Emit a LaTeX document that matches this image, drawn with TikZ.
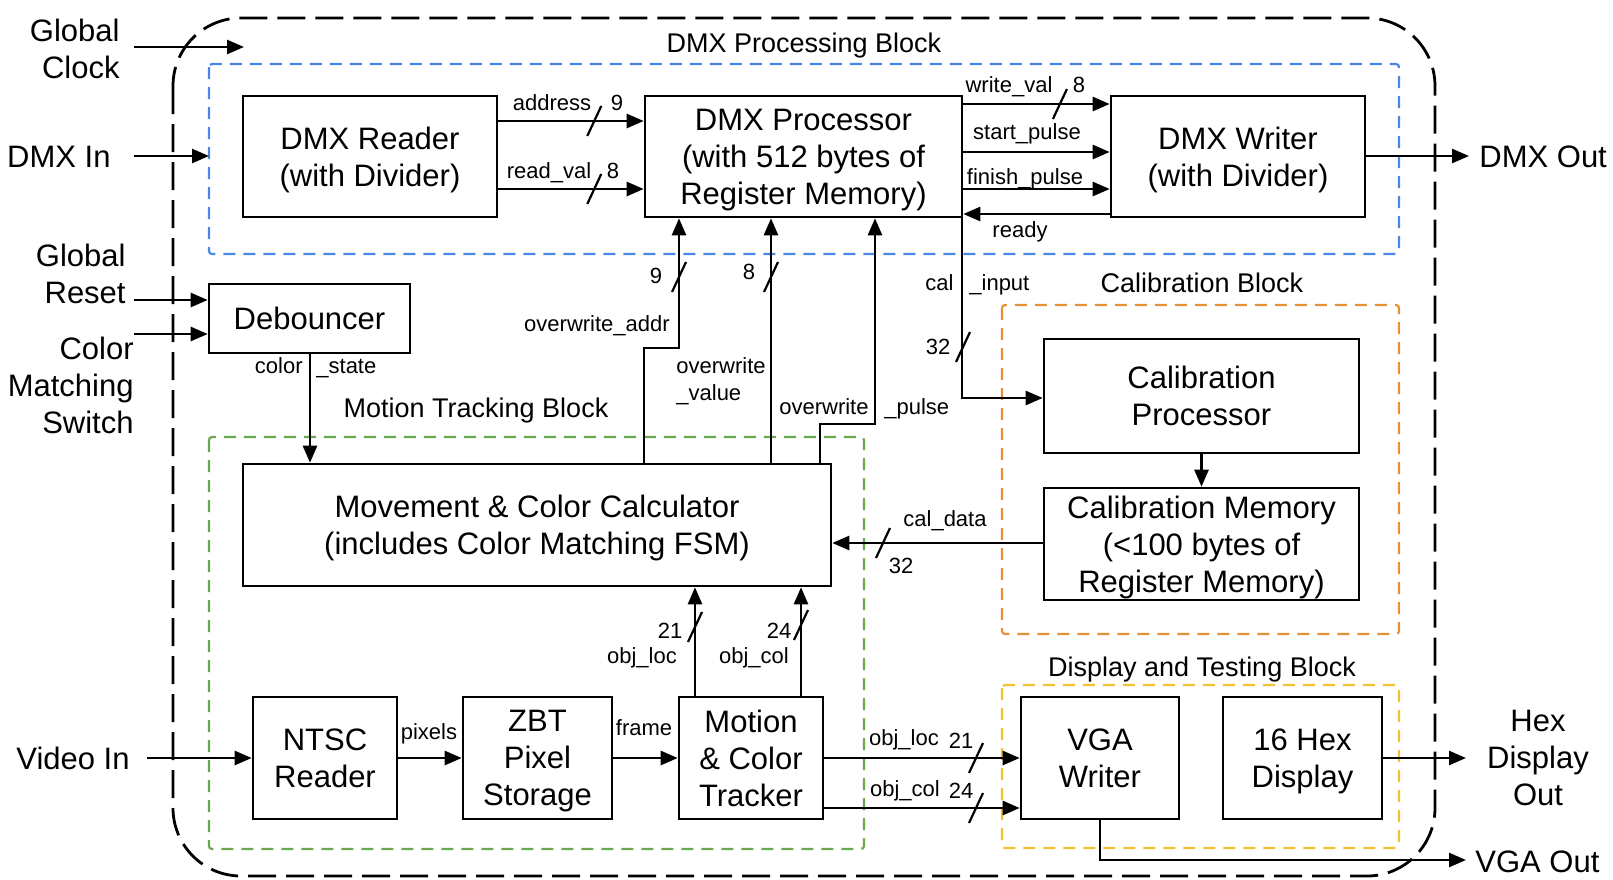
\documentclass[tikz,border=0pt]{standalone}
\usepackage{fontspec}
\setmainfont{Liberation Sans}
\usetikzlibrary{arrows.meta,calc}
\definecolor{grpblue}{RGB}{74,134,232}
\definecolor{grpgreen}{RGB}{106,168,79}
\definecolor{grporange}{RGB}{230,145,56}
\definecolor{grpyellow}{RGB}{241,194,50}
\newcommand\mainsz{\fontsize{15.5}{18.5}\selectfont}
\newcommand\ttlsz{\fontsize{13.5}{16}\selectfont}
\newcommand\lblsz{\fontsize{11}{13}\selectfont}
\newcommand\busslash[1]{\draw[slashln] ([shift={(-7,15)}]#1) -- ([shift={(7,-15)}]#1);}
\tikzset{
  blk/.style={draw, line width=1.3pt, align=center, font=\mainsz, inner sep=0pt, text depth=0pt},
  arr/.style={line width=1.3pt, -{Triangle[length=8.5pt,width=7pt]}},
  ln/.style={line width=1.3pt},
  lbl/.style={font=\lblsz, inner sep=0.5pt, text height=8pt, text depth=0pt},
  ttl/.style={font=\ttlsz, inner sep=0pt, text depth=0pt},
  ext/.style={font=\mainsz, inner sep=0pt},
  grp/.style={dash pattern=on 6pt off 4pt, line width=1.1pt, rounded corners=1.5pt},
  outer/.style={dash pattern=on 14pt off 5pt, line width=1.4pt, rounded corners=34pt},
  slashln/.style={line width=1.1pt},
}
\begin{document}
\begin{tikzpicture}[x=0.5pt,y=-0.5pt]
\useasboundingbox (0,0) rectangle (1613,879);

% outer and group frames
\draw[outer] (173,18) rectangle (1435,876);
\draw[grp, grpblue] (209,64) rectangle (1399,254);
\draw[grp, grpgreen] (209,437) rectangle (864,849);
\draw[grp, grporange] (1002,305) rectangle (1399,634);
\draw[grp, grpyellow] (1002,685) rectangle (1399,848);

\node[ttl] (tdmx) at (804,43) {DMX Processing Block};
\node[ttl] (tmot) at (476,408) {Motion Tracking Block};
\node[ttl] (tcal) at (1202,283) {Calibration Block};
\node[ttl] (tdisp) at (1202,667) {Display and Testing Block};

% blocks
\node[blk, minimum width=127pt, minimum height=60.5pt] (reader) at (370,156.5) {DMX Reader\\(with Divider)};
\node[blk, minimum width=158.5pt, minimum height=60.5pt] (proc) at (803.5,156.5) {DMX Processor\\(with 512 bytes of\\Register Memory)};
\node[blk, minimum width=127pt, minimum height=60.5pt] (writer) at (1238,156.5) {DMX Writer\\(with Divider)};
\node[blk, minimum width=100.5pt, minimum height=34.5pt] (deb) at (309.5,318.5) {Debouncer};
\node[blk, minimum width=294pt, minimum height=61pt] (calc) at (537,525) {Movement \& Color Calculator\\(includes Color Matching FSM)};
\node[blk, minimum width=157.5pt, minimum height=57pt] (calproc) at (1201.5,396) {Calibration\\Processor};
\node[blk, minimum width=157.5pt, minimum height=56pt] (calmem) at (1201.5,544) {Calibration Memory\\(<100 bytes of\\Register Memory)};
\node[blk, minimum width=72pt, minimum height=61pt] (ntsc) at (325,758) {NTSC\\Reader};
\node[blk, minimum width=74.5pt, minimum height=61pt] (zbt) at (537.5,758) {ZBT\\Pixel\\Storage};
\node[blk, minimum width=72pt, minimum height=61pt] (trk) at (751,758) {Motion\\\& Color\\Tracker};
\node[blk, minimum width=79pt, minimum height=61pt] (vga) at (1100,758) {VGA\\Writer};
\node[blk, minimum width=79.5pt, minimum height=61pt] (hex) at (1302.5,758) {16 Hex\\Display};

% external labels
\node[ext, anchor=east, align=right] (gclk) at (120,48.5) {Global\\Clock};
\node[ext, anchor=east] (dmxin) at (111,157) {DMX In};
\node[ext, anchor=east, align=right] (grst) at (126,273.5) {Global\\Reset};
\node[ext, anchor=east, align=right] (cms) at (134,385) {Color\\Matching\\Switch};
\node[ext, anchor=east] (vidin) at (130,758) {Video In};
\node[ext, anchor=west] (dmxout) at (1479,157) {DMX Out};
\node[ext, align=center] (hexout) at (1538,758) {Hex\\Display\\Out};
\node[ext, anchor=west] (vgaout) at (1475,862) {VGA Out};

% helper coordinates
\coordinate (gclkS) at (134,47);
\coordinate (gclkE) at (244,47);
\coordinate (dmxinS) at (134,156);
\coordinate (dmxinE) at (209,156);
\coordinate (rstS) at (134,300);
\coordinate (cmsS) at (134,334);
\coordinate (yAddr) at (0,121);
\coordinate (yRead) at (0,189);
\coordinate (yWval) at (0,104);
\coordinate (yStart) at (0,152);
\coordinate (yFin) at (0,189);
\coordinate (yReady) at (0,214);
\coordinate (yOut) at (0,156);
\coordinate (dmxoutE) at (1469,156);
\coordinate (oa1) at (644,348);
\coordinate (oa2) at (679,348);
\coordinate (ov) at (771,0);
\coordinate (op1) at (820,424);
\coordinate (op2) at (875,424);
\coordinate (ci) at (962,398);
\coordinate (cd) at (0,543);
\coordinate (cs) at (310,0);
\coordinate (ol) at (695,0);
\coordinate (oc) at (801,0);
\coordinate (vidS) at (147,758);
\coordinate (yLoc) at (0,758);
\coordinate (yCol) at (0,808);
\coordinate (hexE) at (1466,758);
\coordinate (vgaC) at (1100,860);
\coordinate (vgaE) at (1466,860);

% inputs
\draw[arr] (gclkS) -- (gclkE);
\draw[arr] (dmxinS) -- (dmxinE);
\draw[arr] (rstS) -- (deb.west |- rstS);
\draw[arr] (cmsS) -- (deb.west |- cmsS);
\draw[arr] (vidS) -- (ntsc.west);

% DMX block
\draw[arr] (reader.east |- yAddr) -- coordinate[pos=0.66] (sAddr) (proc.west |- yAddr);
\draw[arr] (reader.east |- yRead) -- coordinate[pos=0.66] (sRead) (proc.west |- yRead);
\draw[arr] (proc.east |- yWval) -- coordinate[pos=0.66] (sWval) (writer.west |- yWval);
\draw[arr] (proc.east |- yStart) -- (writer.west |- yStart);
\draw[arr] (proc.east |- yFin) -- (writer.west |- yFin);
\draw[arr] (writer.west |- yReady) -- (proc.east |- yReady);
\draw[arr] (writer.east |- yOut) -- (dmxoutE);
\busslash{sAddr}
\busslash{sRead}
\busslash{sWval}
\node[lbl] (laddr) at (552,102) {address};
\node[lbl] (laddrn) at (617,102) {9};
\node[lbl] (lread) at (549,170) {read\_val};
\node[lbl] (lreadn) at (613,170) {8};
\node[lbl] (lwval) at (1009,84) {write\_val};
\node[lbl] (lwvaln) at (1079,84) {8};
\node[lbl] (lstart) at (1027,131) {start\_pulse};
\node[lbl] (lfin) at (1025,176) {finish\_pulse};
\node[lbl] (lready) at (1020,229) {ready};

% overwrite lines
\draw[arr] (calc.north -| oa1) -- (oa1) -- (oa2) -- (proc.south -| oa2);
\draw[arr] (calc.north -| ov) -- (proc.south -| ov);
\draw[arr] (calc.north -| op1) -- (op1) -- (op2) -- (proc.south -| op2);
\coordinate (sOa) at (679,277);
\coordinate (sOv) at (771,277);
\busslash{sOa}
\busslash{sOv}
\node[lbl] (loan) at (656,275) {9};
\node[lbl] (lovn) at (749,271) {8};
\node[lbl] (loa) at (597,323) {overwrite\_addr};
\node[lbl, anchor=west] (lov1) at (675,365) {overwrite};
\node[lbl, anchor=west] (lov2) at (675,392) {\_value};
\node[lbl, anchor=east] (lop1) at (870,406) {overwrite};
\node[lbl, anchor=west] (lop2) at (883,406) {\_pulse};

% calibration
\draw[arr] (proc.south -| ci) -- (ci) -- (calproc.west |- ci);
\coordinate (sCi) at (963,347);
\busslash{sCi}
\node[lbl, anchor=east] (lci1) at (955,282) {cal};
\node[lbl, anchor=west] (lci2) at (968,282) {\_input};
\node[lbl] (lcin) at (938,346) {32};
\draw[arr] (calproc) -- (calmem);
\draw[arr] (calmem.west |- cd) -- (calc.east |- cd);
\coordinate (sCd) at (883,543);
\busslash{sCd}
\node[lbl] (lcd) at (945,518) {cal\_data};
\node[lbl] (lcdn) at (901,565) {32};

% debouncer
\draw[arr] (deb.south -| cs) -- (calc.north -| cs);
\node[lbl, anchor=east] (lcs1) at (304,365) {color};
\node[lbl, anchor=west] (lcs2) at (315,365) {\_state};

% tracker up
\draw[arr] (trk.north -| ol) -- (calc.south -| ol);
\draw[arr] (trk.north -| oc) -- (calc.south -| oc);
\coordinate (sOl) at (695,627);
\coordinate (sOc) at (801,625);
\busslash{sOl}
\busslash{sOc}
\node[lbl] (lol) at (670,630) {21};
\node[lbl] (lolt) at (642,655) {obj\_loc};
\node[lbl] (locn) at (779,630) {24};
\node[lbl] (loct) at (754,655) {obj\_col};

% video chain
\draw[arr] (ntsc.east) -- (zbt.west);
\draw[arr] (zbt.east) -- (trk.west);
\node[lbl] (lpix) at (429,731) {pixels};
\node[lbl] (lfrm) at (644,727) {frame};

% to VGA
\draw[arr] (trk.east |- yLoc) -- (vga.west |- yLoc);
\draw[arr] (trk.east |- yCol) -- (vga.west |- yCol);
\coordinate (sVl) at (976,758);
\coordinate (sVc) at (976,808);
\busslash{sVl}
\busslash{sVc}
\node[lbl] (lvl) at (904,737) {obj\_loc};
\node[lbl] (lvln) at (961,740) {21};
\node[lbl] (lvc) at (905,788) {obj\_col};
\node[lbl] (lvcn) at (961,790) {24};

% outputs
\draw[arr] (hex.east) -- (hexE);
\draw[arr] (vga.south) -- (vgaC) -- (vgaE);
\end{tikzpicture}
\end{document}
